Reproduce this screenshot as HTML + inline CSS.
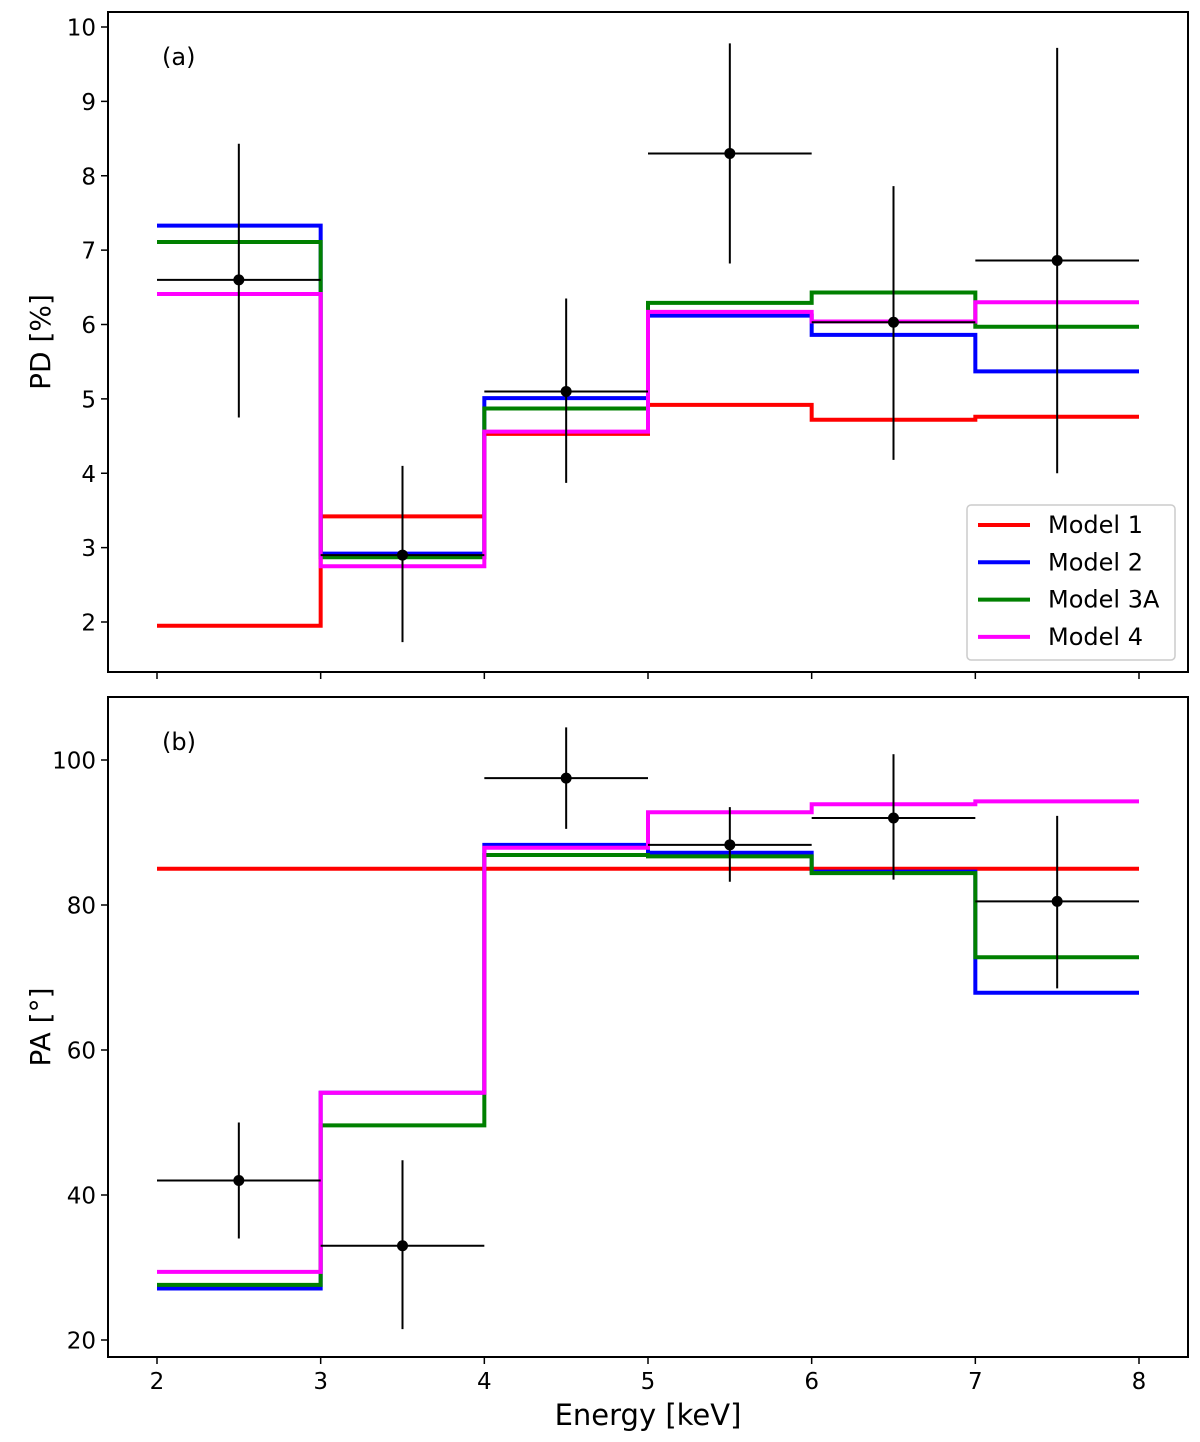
<!DOCTYPE html>
<html><head><meta charset="utf-8"><style>
body{margin:0;background:#fff}
svg{display:block;font-family:"DejaVu Sans","Liberation Sans",sans-serif}
</style></head><body>
<svg id="chart" width="1200" height="1442" viewBox="0 0 1200 1442" xmlns="http://www.w3.org/2000/svg"></svg>
<script>
const energyBins=[2,3,4,5,6,7,8];
const pointEnergies=[2.5,3.5,4.5,5.5,6.5,7.5];
const pdValues=[6.6,2.9,5.1,8.3,6.03,6.86];
const pdLow=[4.75,1.73,3.87,6.82,4.18,4.0];
const pdHigh=[8.43,4.1,6.35,9.78,7.86,9.72];
const pdModel1=[1.95,3.42,4.53,4.92,4.72,4.76];
const pdModel2=[7.33,2.92,5.01,6.12,5.86,5.37];
const pdModel3A=[7.11,2.87,4.87,6.29,6.43,5.97];
const pdModel4=[6.41,2.75,4.56,6.17,6.04,6.30];
const paValues=[42,33,97.5,88.3,92,80.5];
const paLow=[34,21.5,90.5,83.2,83.5,68.5];
const paHigh=[50,44.8,104.5,93.5,100.8,92.3];
const paModel1=[85,85,85,85,85,85];
const paModel2=[27.1,54.1,88.3,87.2,84.6,67.9];
const paModel3A=[27.6,49.6,86.9,86.7,84.4,72.8];
const paModel4=[29.4,54.1,87.9,92.8,93.9,94.3];
const xTicks=[2,3,4,5,6,7,8];
const pdTicks=[2,3,4,5,6,7,8,9,10];
const paTicks=[20,40,60,80,100];
const modelNames=["Model 1","Model 2","Model 3A","Model 4"];
const modelColors=["#ff0000","#0000ff","#008000","#ff00ff"];

const svg=document.getElementById('chart');
const NS='http://www.w3.org/2000/svg';
function mk(tag,attrs,parent){const e=document.createElementNS(NS,tag);for(const k in attrs)e.setAttribute(k,attrs[k]);(parent||svg).appendChild(e);return e;}
const X=v=>157+(v-2)*(1139-157)/6;
const Ytop=v=>622-(v-2)*(622-27)/8;
const Ybot=v=>1340-(v-20)*(1340-760)/80;

function panel(name,top,bottom,Y,yTicks,models,vals,lo,hi,label,tag,showXLabels){
  const g=mk('g',{});
  
  
  models.forEach((m,mi)=>{
    let d='';
    m.forEach((v,i)=>{d+=(i===0?'M':'L')+X(energyBins[i])+','+Y(v)+'L'+X(energyBins[i+1])+','+Y(v);});
    const p=mk('path',{d:d,fill:'none',stroke:modelColors[mi],'stroke-width':4},g);
    
    
  });
  vals.forEach((v,i)=>{
    const e=pointEnergies[i];
    const eg=mk('g',{},g);
    
    
    mk('line',{x1:X(e-0.5),x2:X(e+0.5),y1:Y(v),y2:Y(v),stroke:'#000','stroke-width':2},eg);
    mk('line',{x1:X(e),x2:X(e),y1:Y(lo[i]),y2:Y(hi[i]),stroke:'#000','stroke-width':2},eg);
    mk('circle',{cx:X(e),cy:Y(v),r:5.5,fill:'#000'},eg);
  });
  const fr=mk('rect',{x:108,y:top,width:1080,height:bottom-top,fill:'none',stroke:'#000','stroke-width':2},g);
  
  
  xTicks.forEach(t=>{
    mk('line',{x1:X(t),x2:X(t),y1:bottom,y2:bottom+7,stroke:'#000','stroke-width':1.5},g);
    if(showXLabels){const tx=mk('text',{x:X(t),y:bottom+32,'font-size':23,'text-anchor':'middle'},g);tx.textContent=t;
      }
  });
  yTicks.forEach(t=>{
    mk('line',{x1:101,x2:108,y1:Y(t),y2:Y(t),stroke:'#000','stroke-width':1.5},g);
    const tx=mk('text',{x:96,y:Y(t)+8.5,'font-size':23,'text-anchor':'end'},g);tx.textContent=t;
    
  });
  const yl=mk('text',{x:0,y:0,'font-size':28,'text-anchor':'middle',transform:`translate(50,${(top+bottom)/2}) rotate(-90)`},g);
  yl.textContent=label;
  
  
  const pt=mk('text',{x:162,y:top+53,'font-size':24},g);pt.textContent=tag;
  
  
}
panel('pd-panel',12,672,Ytop,pdTicks,[pdModel1,pdModel2,pdModel3A,pdModel4],pdValues,pdLow,pdHigh,'PD [%]','(a)',false);
panel('pa-panel',697,1357,Ybot,paTicks,[paModel1,paModel2,paModel3A,paModel4],paValues,paLow,paHigh,'PA [°]','(b)',true);

const xt=mk('text',{x:648,y:1425,'font-size':29,'text-anchor':'middle'});
xt.textContent='Energy [keV]';



const lg=mk('g',{});


mk('rect',{x:967,y:505,width:208,height:155,rx:4,fill:'#fff',stroke:'#ccc','stroke-width':1.5},lg);
modelNames.forEach((n,i)=>{
  const y=525+i*37.3;
  const eg=mk('g',{},lg);
  
  
  mk('line',{x1:978,x2:1030,y1:y,y2:y,stroke:modelColors[i],'stroke-width':4},eg);
  const t=mk('text',{x:1048,y:y+8,'font-size':24},eg);t.textContent=n;
});
</script>
</body></html>
